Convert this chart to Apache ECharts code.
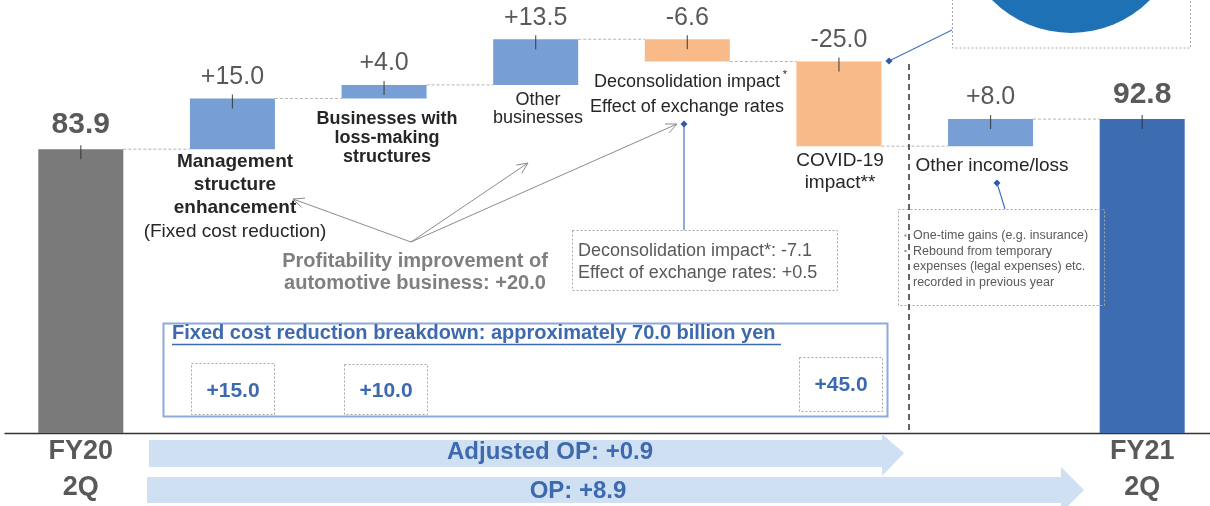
<!DOCTYPE html>
<html><head><meta charset="utf-8">
<script src="https://cdn.jsdelivr.net/npm/echarts@6/dist/echarts.min.js"></script>
<style>html,body{margin:0;padding:0;background:#fff}#c{width:1210px;height:506px}</style>
</head><body><div id="c"></div>
<script>
// ---- data ----
const categories = ['FY20 2Q','Management structure enhancement','Businesses with loss-making structures','Other businesses','Deconsolidation impact / Effect of exchange rates','COVID-19 impact','Other income/loss','FY21 2Q'];
const deltas = [83.9, 15.0, 4.0, 13.5, -6.6, -25.0, 8.0, 92.8];
const isTotal = [true, false, false, false, false, false, false, true];
const valueLabels = ['83.9','+15.0','+4.0','+13.5','-6.6','-25.0','+8.0','92.8'];
const tickLabels = ['FY20\n2Q','','','','','','','FY21\n2Q'];
const breakdownValues = ['+15.0','+10.0','+45.0'];
const arrowLabels = ['Adjusted OP: +0.9','OP: +8.9'];
const decoBoxLines = ['Deconsolidation impact*: -7.1','Effect of exchange rates: +0.5'];
const otherBoxLines = ['One-time gains (e.g. insurance)','Rebound from temporary','expenses (legal expenses) etc.','recorded in previous year'];

// ---- waterfall build ----
let run = 0; const base = [], vis = [], tops = [], ends = [];
deltas.forEach((d, i) => {
  if (isTotal[i]) { base.push(0); vis.push(d); run = d; tops.push(d); ends.push(d); }
  else { const s = run, e = run + d; base.push(Math.min(s, e)); vis.push(Math.abs(d)); tops.push(Math.max(s, e)); run = e; ends.push(e); }
});
const colorOf = (i) => i === 0 ? '#7a7a7a' : (i === deltas.length - 1 ? '#3d6db0' : (deltas[i] >= 0 ? '#779fd5' : '#f8ba88'));

const FONT = '"Liberation Sans", Arial, sans-serif';
const GRAY = '#595959';
const BLUE = '#3d69ae';

function T(x, y, text, size, o) {
  o = o || {};
  return { type: 'text', x: x, y: y, z: 10, style: {
    text: text, fontFamily: FONT, fontSize: size, fontWeight: o.bold ? 'bold' : 'normal',
    fill: o.color || GRAY, align: o.align || 'center', verticalAlign: 'middle',
    lineHeight: o.lh || Math.round(size * 1.2) } };
}
function L(x1, y1, x2, y2, color, w, dash) {
  return { type: 'line', z: 5, shape: { x1, y1, x2, y2 }, style: { stroke: color, lineWidth: w || 1, lineDash: dash || null } };
}
function R(x, y, w, h, stroke, lw, dash, fill) {
  return { type: 'rect', z: 4, shape: { x, y, width: w, height: h }, style: { stroke: stroke || null, lineWidth: lw || 1, lineDash: dash || null, fill: fill || 'none' } };
}
function D(x, y, color) {
  return { type: 'polygon', z: 6, shape: { points: [[x, y - 3.5], [x + 3.5, y], [x, y + 3.5], [x - 3.5, y]] }, style: { fill: color } };
}
function A(x1, y1, x2, y2, color) {
  const ang = Math.atan2(y2 - y1, x2 - x1), len = 12, spread = 0.42;
  return [L(x1, y1, x2, y2, color, 1),
    L(x2, y2, x2 - len * Math.cos(ang - spread), y2 - len * Math.sin(ang - spread), color, 1),
    L(x2, y2, x2 - len * Math.cos(ang + spread), y2 - len * Math.sin(ang + spread), color, 1)];
}

const graphics = [
  // bottom arrows
  { type: 'polygon', z: 1, shape: { points: [[149,440],[882,440],[882,434],[904,453],[882,476],[882,467],[149,467]] }, style: { fill: '#cfe0f2' } },
  { type: 'polygon', z: 1, shape: { points: [[147,477],[1061,477],[1061,467],[1084,490],[1061,513],[1061,503],[147,503]] }, style: { fill: '#cfe0f2' } },
  T(550, 452, arrowLabels[0], 24, { bold: true, color: BLUE }),
  T(578, 491, arrowLabels[1], 24, { bold: true, color: BLUE }),
  // vertical dashed separator
  L(909, 64, 909, 433, '#333', 1.5, [6, 4]),
  // category annotations
  T(235, 185, 'Management\nstructure\nenhancement', 19, { bold: true, lh: 23, color: '#262626' }),
  T(235, 232, '(Fixed cost reduction)', 19, { color: '#262626' }),
  T(387, 138, 'Businesses with\nloss-making\nstructures', 18, { bold: true, lh: 19, color: '#262626' }),
  T(538, 109, 'Other\nbusinesses', 18, { lh: 18, color: '#262626' }),
  T(687, 94.5, 'Deconsolidation impact\nEffect of exchange rates', 18, { lh: 25, color: '#262626' }),
  T(785, 75, '*', 11, { color: '#262626' }),
  T(840, 172, 'COVID-19\nimpact**', 19, { lh: 22, color: '#262626' }),
  T(992, 166, 'Other income/loss', 19, { color: '#262626' }),
  T(415, 272.5, 'Profitability improvement of\nautomotive business: +20.0', 20, { bold: true, lh: 22, color: '#7f7f7f' }),
  // gray arrows
  ...A(411, 242, 293, 199, '#8c8c8c'),
  ...A(411, 242, 528, 163, '#8c8c8c'),
  ...A(411, 242, 677, 124, '#8c8c8c'),
  // deconsolidation box
  R(572.5, 230.5, 265, 60, '#a6a6a6', 1, [2, 2]),
  T(578, 262, decoBoxLines.join('\n'), 18, { align: 'left', lh: 22 }),
  L(684, 124, 684, 230, '#4472c4', 1.2), D(684, 124, '#2f5aa8'),
  // top right box with circle
  R(952.5, -5, 238, 53, '#a6a6a6', 1, [2, 2]),
  { type: 'circle', z: 3, shape: { cx: 1071, cy: -78, r: 111 }, style: { fill: '#1f71b5' } },
  L(952, 30, 889, 61, '#4472c4', 1.2), D(889, 61, '#2f5aa8'),
  // other income box
  R(898.5, 209.5, 206, 96, '#a6a6a6', 1, [2, 2]),
  R(904.5, 234.5, 2, 2, null, 1, null, '#8c8c8c'),
  R(904.5, 250, 2, 2, null, 1, null, '#8c8c8c'),
  T(913, 259, otherBoxLines.join('\n'), 12.5, { align: 'left', lh: 15.5 }),
  L(997, 183, 1005, 209, '#4472c4', 1.2), D(997, 183, '#2f5aa8'),
  // fixed cost breakdown
  R(163.5, 323.5, 724, 93, '#8eaadb', 2),
  T(172, 333, 'Fixed cost reduction breakdown: approximately 70.0 billion yen', 20, { bold: true, color: BLUE, align: 'left' }),
  L(172, 344.5, 781, 344.5, BLUE, 1.5),
  R(191.5, 363.5, 83, 51, '#a6a6a6', 1, [2, 2]),
  R(344.5, 364.5, 83, 50, '#a6a6a6', 1, [2, 2]),
  R(799.5, 357.5, 83, 54, '#a6a6a6', 1, [2, 2]),
  T(233, 391, breakdownValues[0], 21, { bold: true, color: BLUE }),
  T(386, 391, breakdownValues[1], 21, { bold: true, color: BLUE }),
  T(841, 385, breakdownValues[2], 21, { bold: true, color: BLUE })
];

const chart = echarts.init(document.getElementById('c'), null, { renderer: 'canvas' });
chart.setOption({
  animation: false,
  backgroundColor: '#fff',
  grid: { left: 5, top: 0, width: 1213, height: 433, containLabel: false, outerBoundsMode: 'none' },
  xAxis: {
    type: 'category', data: categories,
    axisLine: { lineStyle: { color: '#333', width: 1.3 } },
    axisTick: { show: false },
    axisLabel: { interval: 0, margin: 1, formatter: (v, i) => tickLabels[i], fontFamily: FONT, fontSize: 27, fontWeight: 'bold', color: GRAY, lineHeight: 36 }
  },
  yAxis: { type: 'value', min: 0, max: 128, show: false, splitLine: { show: false } },
  series: [
    { type: 'bar', stack: 'w', barWidth: 85, data: base, itemStyle: { color: 'transparent' }, silent: true },
    { type: 'bar', stack: 'w', barWidth: 85, z: 2,
      data: vis.map((v, i) => ({ value: v, itemStyle: { color: colorOf(i) },
        label: { fontSize: isTotal[i] ? 30 : 25, fontWeight: isTotal[i] ? 'bold' : 'normal' } })),
      label: { show: true, position: 'top', distance: 9, color: GRAY, fontFamily: FONT, formatter: (p) => valueLabels[p.dataIndex] } },
    { type: 'custom', z: 1, data: ends.slice(0, -1).map((v, i) => [i, v]),
      renderItem: (params, api) => {
        const p1 = api.coord([api.value(0), api.value(1)]);
        const p2 = api.coord([api.value(0) + 1, api.value(1)]);
        const hb = 42.5;
        return { type: 'line', shape: { x1: p1[0] + hb, y1: p1[1], x2: p2[0] - hb, y2: p2[1] }, style: { stroke: '#b3b3b3', lineWidth: 1, lineDash: [3, 2] } };
      } },
    { type: 'scatter', z: 4, data: tops.map((v, i) => [i, v]), symbol: 'rect', symbolSize: [1.2, 14], symbolOffset: [0, 3], itemStyle: { color: '#333' }, silent: true }
  ],
  graphic: graphics
});
</script>
</body></html>
